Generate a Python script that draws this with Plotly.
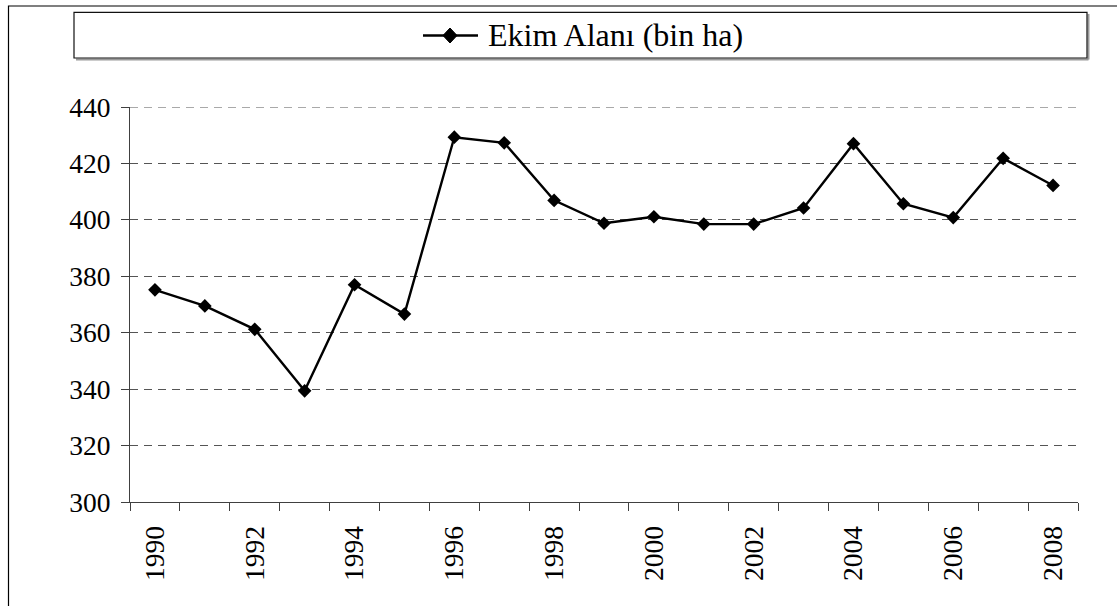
import plotly.graph_objects as go

# ---- data ----
years = list(range(1990, 2009))
ekim_alani = [375.2, 369.5, 361.2, 339.4, 377.0, 366.6, 429.3, 427.3, 406.9, 398.8,
              401.1, 398.5, 398.5, 404.2, 427.0, 405.7, 400.8, 421.8, 412.2]
series_name = "Ekim Alanı (bin ha)"
y_tick_values = [300, 320, 340, 360, 380, 400, 420, 440]
x_tick_years = years[::2]
x_tick_labels = [str(y) for y in x_tick_years]

FONT = "Times New Roman, Liberation Serif, serif"
W, H = 1117, 606
L, R, T, B = 130, 39, 107, 104
pw, ph = W - L - R, H - T - B
GRID_COLOR, GRID_DASH = "#555555", "8px,6px"


def px_x(p):
    return (p - L) / pw


def px_y(p):
    return (H - B - p) / ph


fig = go.Figure()
fig.add_trace(go.Scatter(
    x=years, y=ekim_alani, name=series_name, mode="lines+markers",
    line=dict(color="black", width=2.4),
    marker=dict(symbol="diamond", size=10.5, color="black"),
    showlegend=False,
))

boundaries = [years[0] - 0.5 + i for i in range(len(years) + 1)]

# manual legend (wide box, long symbol line like the reference)
leg_y = 35.5
dcx, dcy, dhw, dhh = 450, leg_y, 7, 7.5
diamond_path = (f"M {px_x(dcx - dhw)},{px_y(dcy)} L {px_x(dcx)},{px_y(dcy - dhh)} "
                f"L {px_x(dcx + dhw)},{px_y(dcy)} L {px_x(dcx)},{px_y(dcy + dhh)} Z")

shapes = [
    # top gridline (plotly drops gridlines lying on the plot edge)
    dict(type="line", xref="paper", yref="y", x0=0, x1=1,
         y0=y_tick_values[-1], y1=y_tick_values[-1], layer="below",
         line=dict(color=GRID_COLOR, width=1, dash=GRID_DASH)),
    # outer chart border (cropped on right and bottom)
    dict(type="rect", xref="paper", yref="paper",
         x0=px_x(8.5), x1=px_x(1130), y0=px_y(620), y1=px_y(6),
         line=dict(color="black", width=1.2), fillcolor="rgba(0,0,0,0)", layer="below"),
    # legend box shadow
    dict(type="line", xref="paper", yref="paper",
         x0=px_x(76), x1=px_x(1088.5), y0=px_y(59.5), y1=px_y(59.5),
         line=dict(color="#9a9a9a", width=2)),
    dict(type="line", xref="paper", yref="paper",
         x0=px_x(1088.5), x1=px_x(1088.5), y0=px_y(14), y1=px_y(59.5),
         line=dict(color="#9a9a9a", width=2)),
    # legend box
    dict(type="rect", xref="paper", yref="paper",
         x0=px_x(74), x1=px_x(1087), y0=px_y(58), y1=px_y(12.3),
         line=dict(color="#111111", width=1.2), fillcolor="white"),
    # legend symbol
    dict(type="line", xref="paper", yref="paper",
         x0=px_x(423), x1=px_x(478), y0=px_y(leg_y), y1=px_y(leg_y),
         line=dict(color="black", width=2.4)),
    dict(type="path", xref="paper", yref="paper", path=diamond_path,
         fillcolor="black", line=dict(color="black", width=1)),
]

fig.update_layout(
    width=W, height=H,
    margin=dict(l=L, r=R, t=T, b=B),
    paper_bgcolor="white", plot_bgcolor="white",
    font=dict(family=FONT, size=27.5, color="black"),
    showlegend=False,
    xaxis=dict(
        range=[years[0] - 0.5, years[-1] + 0.5],
        tickmode="array", tickvals=x_tick_years, ticktext=x_tick_labels,
        tickangle=-90, ticks="outside", ticklen=9, tickcolor="rgba(0,0,0,0)",
        ticklabelstandoff=3,
        tickfont=dict(family=FONT, size=27.5, color="black"),
        showgrid=False, zeroline=False,
        showline=True, linecolor="#404040", linewidth=1.2,
        minor=dict(tickmode="array", tickvals=boundaries, ticks="outside",
                   ticklen=8, tickcolor="#404040", tickwidth=1.2, showgrid=False),
    ),
    yaxis=dict(
        range=[300, 440], tickmode="array", tickvals=y_tick_values,
        ticks="outside", ticklen=8, tickcolor="#404040", tickwidth=1.2,
        ticklabelstandoff=5,
        tickfont=dict(family=FONT, size=27.5, color="black"),
        showgrid=True, gridcolor=GRID_COLOR, gridwidth=1, griddash=GRID_DASH,
        zeroline=False, showline=True, linecolor="#404040", linewidth=1.2,
    ),
    shapes=shapes,
    annotations=[
        dict(text=series_name, xref="paper", yref="paper",
             x=px_x(486), y=px_y(leg_y), xanchor="left", yanchor="middle",
             showarrow=False, font=dict(family=FONT, size=32, color="black")),
    ],
)

fig.write_html("out.html", config={"displayModeBar": False},
               post_script="document.body.style.margin='0';document.body.style.overflow='hidden';")
